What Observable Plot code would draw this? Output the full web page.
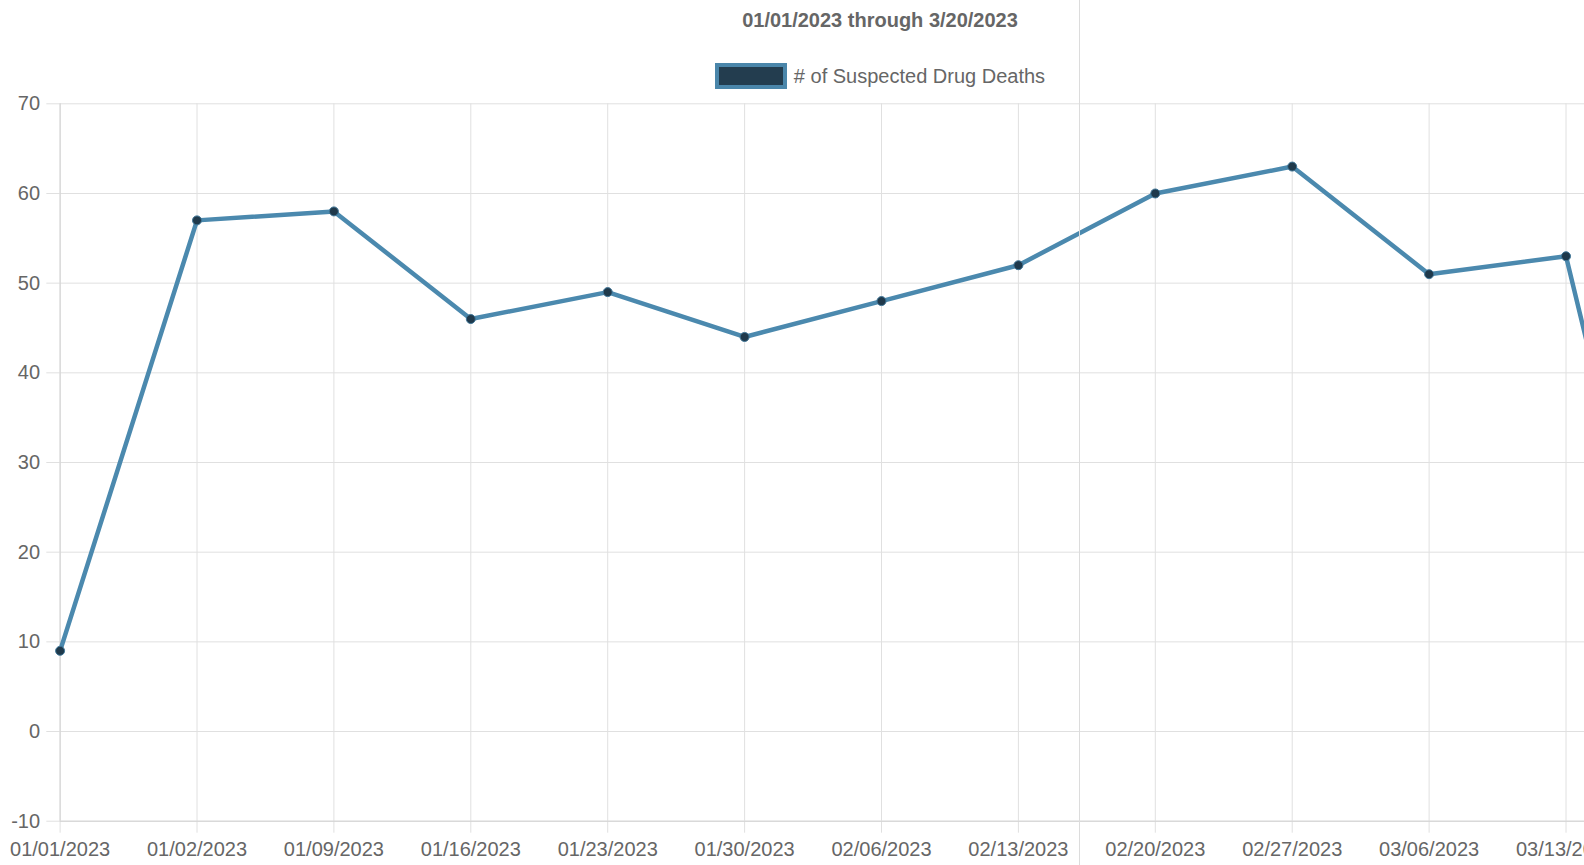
<!DOCTYPE html>
<html>
<head>
<meta charset="utf-8">
<script src="https://cdn.jsdelivr.net/npm/d3@7"></script>
<script src="https://cdn.jsdelivr.net/npm/@observablehq/plot@0.6"></script>
<style>
  html, body { margin: 0; padding: 0; background: #fff; overflow: hidden; width: 1584px; height: 865px; }
  #wrap { position: relative; width: 1760px; font-family: "Liberation Sans", Arial, Helvetica, sans-serif; color: #666; }
  #header { position: relative; height: 90px; width: 1760px; }
  #title { position: absolute; top: 10px; left: 0; width: 1760px; text-align: center; font-size: 20px; line-height: 20px; font-weight: bold; color: #666; }
  #legend { position: absolute; top: 63px; left: 0; width: 1760px; display: flex; justify-content: center; align-items: center; height: 26px; }
  #legend .box { box-sizing: border-box; width: 72px; height: 26px; background: #233d4f; border: 4px solid #4a86aa; margin-right: 7px; }
  #legend .lab { font-size: 20px; line-height: 20px; color: #666; }
  #vline { position: absolute; left: 1078.5px; top: 0; width: 1px; height: 865px; background: #dcdcdc; }
  svg { display: block; }
</style>
</head>
<body>
<div id="wrap">
  <div id="header">
    <div id="title"></div>
    <div id="legend"><div class="box"></div><div class="lab"></div></div>
  </div>
  <div id="chart"></div>
  <div id="vline"></div>
</div>
<script>
const titleText = "01/01/2023 through 3/20/2023";
const seriesName = "# of Suspected Drug Deaths";
const dates = ["01/01/2023","01/02/2023","01/09/2023","01/16/2023","01/23/2023","01/30/2023","02/06/2023","02/13/2023","02/20/2023","02/27/2023","03/06/2023","03/13/2023","03/20/2023"];
const deaths = [9, 57, 58, 46, 49, 44, 48, 52, 60, 63, 51, 53, -10];
const yTicks = [-10, 0, 10, 20, 30, 40, 50, 60, 70];

document.getElementById("title").textContent = titleText;
document.querySelector("#legend .lab").textContent = seriesName;

const data = dates.map((d, i) => ({date: d, value: deaths[i]}));
const grid = "#e0e0e0";

const chart = Plot.plot({
  width: 1760,
  height: 775,
  marginLeft: 59.6,
  marginRight: 57.6,
  marginTop: 13.3,
  marginBottom: 44.3,
  style: {fontFamily: "'Liberation Sans', Arial, Helvetica, sans-serif", fontSize: "20px", color: "#666", background: "transparent"},
  x: {type: "point", domain: dates, padding: 0, round: false},
  y: {domain: [-10, 70], ticks: yTicks},
  marks: [
    Plot.ruleY(yTicks, {stroke: grid, strokeWidth: 1}),
    Plot.ruleX(dates, {y1: -10, y2: 70, stroke: grid, strokeWidth: 1}),
    Plot.axisY({ticks: yTicks, tickFormat: d => String(d), tickSize: 13.3, tickPadding: 6.7, stroke: grid, fill: "#666", fontSize: 20, label: null}),
    Plot.axisX({tickSize: 12, tickPadding: 9, stroke: grid, fill: "#666", fontSize: 20, label: null}),
    Plot.ruleY([-10], {stroke: "#d2d2d2"}),
    Plot.ruleX([dates[0]], {y1: -10, y2: 70, stroke: "#d2d2d2"}),
    Plot.line(data, {x: "date", y: "value", stroke: "#4b89ae", strokeWidth: 4.5, strokeLinejoin: "miter", curve: "linear"}),
    Plot.dot(data, {x: "date", y: "value", r: 4.5, fill: "#1f394b", stroke: "#3f7698", strokeWidth: 1})
  ]
});
document.getElementById("chart").appendChild(chart);
</script>
</body>
</html>
